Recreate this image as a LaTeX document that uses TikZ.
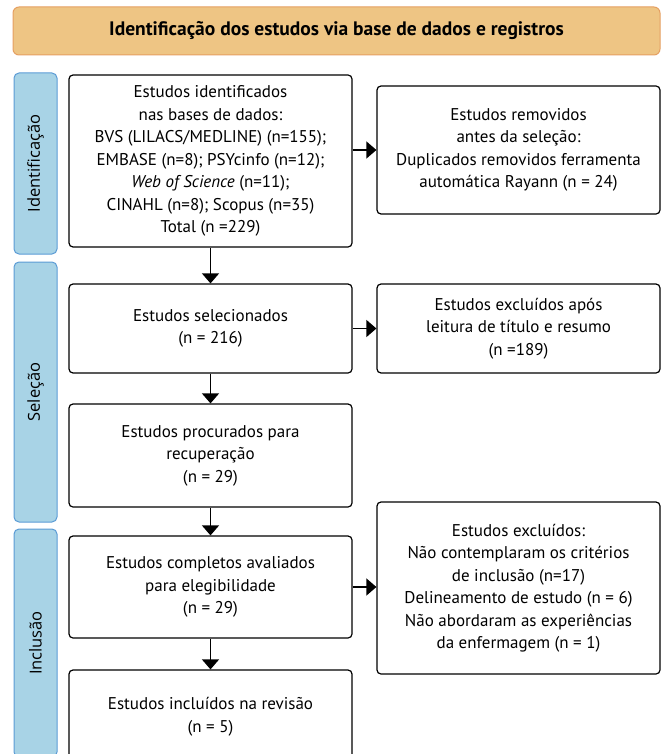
\documentclass[tikz,border=0pt]{standalone}
\usepackage{fontspec}
\setmainfont{PT Sans}
\newfontfamily\sidefont{Open Sans}
\usetikzlibrary{arrows.meta}
\definecolor{headfill}{HTML}{EEC584}
\definecolor{headline}{HTML}{E5A062}
\definecolor{sidefill}{HTML}{A8D3E6}
\definecolor{sideline}{HTML}{5B9BD5}

\begin{document}
\begin{tikzpicture}[x=1pt, y=-1pt,
    box/.style={draw=black, line width=1.2pt, rounded corners=4pt, align=center, inner sep=0pt, minimum width=283pt, font=\fontsize{17}{22.5}\selectfont},
    side/.style={draw=sideline, fill=sidefill, line width=1pt, rounded corners=5pt, inner sep=0pt, minimum height=43pt, rotate=90, font=\sidefont\fontsize{16.5}{18}\selectfont},
    arr/.style={line width=1.2pt, -{Triangle[length=10pt, width=17pt]}}]
    \clip (0,0) rectangle (662,754);
    \node[draw=headline, fill=headfill, line width=1pt, rounded corners=6pt, minimum width=647pt, minimum height=48pt, font=\bfseries\fontsize{19.5}{22}\selectfont] (head) at (336.5,31) {Identificação dos estudos via base de dados e registros};
    % fases
    \node[side, minimum width=181pt] (ident) at (35.5,163.5) {Identificação};
    \node[side, minimum width=260pt] (selec) at (35.5,392) {Seleção};
    \node[side, minimum width=228pt] (inclu) at (35.5,643) {Inclusão};
    % coluna esquerda
    \node[box, minimum height=172pt] (found) at (210.5,161) {Estudos identificados\\nas bases de dados:\\BVS (LILACS/MEDLINE) (n=155);\\EMBASE (n=8); PSYcinfo (n=12);\\\textit{Web of Science} (n=11);\\CINAHL (n=8); Scopus (n=35)\\Total (n =229)};
    \node[box, minimum height=89pt] (screen) at (210.5,328.5) {Estudos selecionados\\(n = 216)};
    \node[box, minimum height=103pt] (sought) at (210.5,455.5) {Estudos procurados para\\recuperação\\(n = 29)};
    \node[box, minimum height=102pt] (elig) at (210.5,587) {Estudos completos avaliados\\para elegibilidade\\(n = 29)};
    \node[box, minimum height=93pt] (incl) at (210.5,716.5) {Estudos incluídos na revisão\\(n = 5)};
    % coluna direita
    \node[box, minimum height=128pt] (dup) at (518.5,150) {Estudos removidos\\antes da seleção:\\Duplicados removidos ferramenta\\automática Rayann (n = 24)};
    \node[box, minimum height=89pt] (excl) at (518.5,328.5) {Estudos excluídos após\\leitura de título e resumo\\(n =189)};
    \node[box, minimum height=172pt] (excl2) at (518.5,588) {Estudos excluídos:\\Não contemplaram os critérios\\de inclusão (n=17)\\Delineamento de estudo (n = 6)\\Não abordaram as experiências\\da enfermagem (n = 1)};
    % setas
    \draw[arr] (found) -- (screen);
    \draw[arr] (screen) -- (sought);
    \draw[arr] (sought) -- (elig);
    \draw[arr] (elig) -- (incl);
    \draw[arr] (found.east |- dup) -- (dup);
    \draw[arr] (screen) -- (excl);
    \draw[arr] (elig) -- (excl2.west |- elig);
\end{tikzpicture}
\end{document}
